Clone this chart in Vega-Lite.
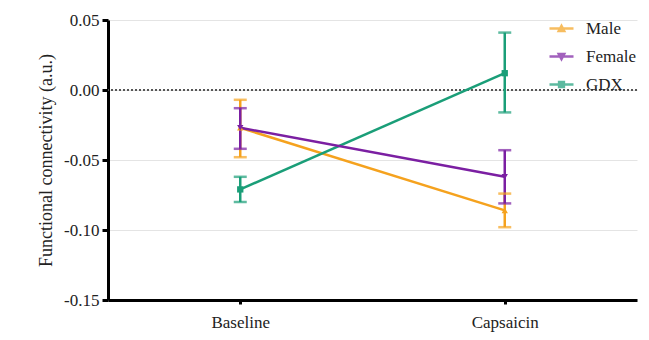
{
  "$schema": "https://vega.github.io/schema/vega-lite/v6.json",
  "width": 529,
  "height": 280,
  "autosize": {"type": "none"},
  "padding": {"left": 108, "top": 20, "right": 12, "bottom": 40},
  "background": "white",
  "config": {
    "font": "Liberation Serif",
    "view": {"stroke": null},
    "style": {
      "guide-label": {"font": "Liberation Serif", "fill": "#222"},
      "guide-title": {"font": "Liberation Serif", "fill": "#222", "fontWeight": "normal"}
    },
    "axis": {"labelFont": "Liberation Serif", "titleFont": "Liberation Serif", "labelColor": "#222", "titleColor": "#222", "titleFontWeight": "normal"},
    "legend": {"labelFont": "Liberation Serif"}
  },
  "data": {
    "values": [
      {"group": "Male", "condition": "Baseline", "mean": -0.027, "lo": -0.048, "hi": -0.007},
      {"group": "Male", "condition": "Capsaicin", "mean": -0.086, "lo": -0.098, "hi": -0.074},
      {"group": "GDX", "condition": "Baseline", "mean": -0.071, "lo": -0.080, "hi": -0.062},
      {"group": "GDX", "condition": "Capsaicin", "mean": 0.012, "lo": -0.016, "hi": 0.041},
      {"group": "Female", "condition": "Baseline", "mean": -0.027, "lo": -0.042, "hi": -0.013},
      {"group": "Female", "condition": "Capsaicin", "mean": -0.062, "lo": -0.081, "hi": -0.043}
    ]
  },
  "encoding": {
    "x": {
      "field": "condition", "type": "ordinal",
      "scale": {"type": "point", "padding": 0.5, "domain": ["Baseline", "Capsaicin"]},
      "axis": {
        "title": null, "labelAngle": 0, "labelFont": "Liberation Serif", "labelFontSize": 17, "labelPadding": 10,
        "domainColor": "#000", "domainWidth": 3, "tickColor": "#000", "tickWidth": 3, "tickSize": 4, "grid": false
      }
    }
  },
  "layer": [
    {
      "mark": {"type": "rule", "strokeDash": [2, 2], "color": "#555", "strokeWidth": 1},
      "encoding": {"y": {"datum": 0, "type": "quantitative"}, "x": null}
    },
    {
      "mark": {"type": "line", "strokeWidth": 2.5},
      "encoding": {
        "y": {
          "field": "mean", "type": "quantitative",
          "scale": {"domain": [-0.15, 0.05], "nice": false, "zero": false},
          "axis": {
            "title": "Functional connectivity (a.u.)", "titleFont": "Liberation Serif", "titleFontSize": 18, "titlePadding": 8,
            "values": [-0.15, -0.1, -0.05, 0, 0.05],
            "labelExpr": "replace(format(datum.value, '.2f'), '\u2212', '-')",
            "labelFont": "Liberation Serif", "labelFontSize": 17, "labelPadding": 3,
            "domainColor": "#000", "domainWidth": 3, "tickColor": "#000", "tickWidth": 3, "tickSize": 6,
            "grid": true, "gridColor": "#e4e4e4", "gridWidth": 1
          }
        },
        "color": {"field": "group", "type": "nominal", "scale": {"domain": ["Male", "Female", "GDX"], "range": ["#F5A21E", "#7B1FA2", "#1A9E78"]}},
        "detail": {"field": "group"}
      }
    },
    {
      "mark": {"type": "rule", "strokeWidth": 2.5},
      "encoding": {
        "y": {"field": "lo", "type": "quantitative"},
        "y2": {"field": "hi"},
        "color": {"field": "group", "type": "nominal"}
      }
    },
    {
      "mark": {"type": "tick", "size": 13, "thickness": 2.5},
      "encoding": {
        "y": {"field": "lo", "type": "quantitative"},
        "color": {"field": "group", "type": "nominal"}
      }
    },
    {
      "mark": {"type": "tick", "size": 13, "thickness": 2.5},
      "encoding": {
        "y": {"field": "hi", "type": "quantitative"},
        "color": {"field": "group", "type": "nominal"}
      }
    },
    {
      "transform": [{"filter": "datum.group === 'Male'"}],
      "mark": {"type": "point", "filled": true, "opacity": 1, "size": 40, "shape": "triangle-up"},
      "encoding": {"y": {"field": "mean", "type": "quantitative"}, "color": {"field": "group", "type": "nominal"}}
    },
    {
      "transform": [{"filter": "datum.group === 'Female'"}],
      "mark": {"type": "point", "filled": true, "opacity": 1, "size": 40, "shape": "triangle-down"},
      "encoding": {"y": {"field": "mean", "type": "quantitative"}, "color": {"field": "group", "type": "nominal"}}
    },
    {
      "transform": [{"filter": "datum.group === 'GDX'"}],
      "mark": {"type": "point", "filled": true, "opacity": 1, "size": 40, "shape": "square"},
      "encoding": {"y": {"field": "mean", "type": "quantitative"}, "color": {"field": "group", "type": "nominal"}}
    },
    {
      "mark": {"type": "point", "filled": false, "opacity": 1, "size": 0, "strokeWidth": 2.5},
      "encoding": {
        "y": {"field": "mean", "type": "quantitative"},
        "color": {
          "field": "group", "type": "nominal",
          "legend": {
            "title": null, "orient": "top-right", "offset": 0,
            "labelFont": "Liberation Serif", "labelFontSize": 17, "labelColor": "#222",
            "symbolSize": 144, "symbolStrokeWidth": 2.5, "labelOffset": 16, "rowPadding": 10, "symbolOpacity": 1
          }
        },
        "shape": {
          "field": "group", "type": "nominal",
          "scale": {"domain": ["Male", "Female", "GDX"], "range": ["M-2,0H2M-0.45,0.4L0,-0.45L0.45,0.4ZM-0.2,0.2H0.2", "M-2,0H2M-0.45,-0.4L0,0.45L0.45,-0.4ZM-0.2,-0.2H0.2", "M-2,0H2M-0.4,-0.4H0.4V0.4H-0.4ZM-0.4,-0.2H0.4M-0.4,0.2H0.4"]},
          "legend": {
            "title": null, "orient": "top-right", "offset": 0,
            "labelFont": "Liberation Serif", "labelFontSize": 17, "labelColor": "#222",
            "symbolSize": 144, "symbolStrokeWidth": 2.5, "labelOffset": 16, "rowPadding": 10, "symbolOpacity": 1
          }
        }
      }
    }
  ]
}
